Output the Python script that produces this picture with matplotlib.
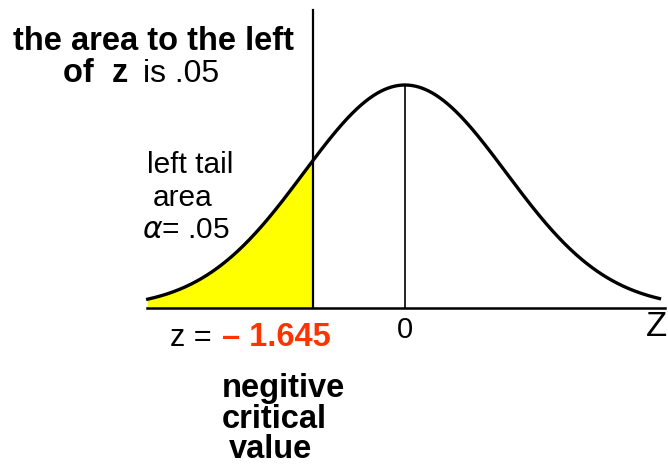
import numpy as np
import matplotlib.pyplot as plt

plt.rcParams['font.family'] = ['Liberation Sans', 'DejaVu Sans']

# values shown on the chart
alpha = 0.05
z_crit = -1.645
z_range = [-4.6, 4.55]
curve_spread = 1.81   # schematic width of the bell

W, H = 668, 466
fig = plt.figure(figsize=(W / 100, H / 100), dpi=100)
ax = fig.add_axes([0, 0, 1, 1])
ax.axis('off')

# axis scaling: 0 at px 405, z_crit at px 313 ; baseline at px 308, peak at px 85
px_per_unit = (405 - 313) / abs(z_crit)
peak = 1 / (curve_spread * np.sqrt(2 * np.pi))
val_per_px = peak / (308 - 85)
ax.set_xlim(-405 / px_per_unit, (W - 405) / px_per_unit)
ax.set_ylim(-(H - 308) * val_per_px, 308 * val_per_px)

x = np.linspace(z_range[0], z_range[1], 600)
y = np.exp(-0.5 * (x / curve_spread) ** 2) / (curve_spread * np.sqrt(2 * np.pi))

# shaded left tail
mask = x <= z_crit
ax.fill_between(x[mask], 0, y[mask], color='#ffff00', zorder=1)
ax.plot(x, y, color='black', lw=2.4, zorder=3)
ax.plot([z_range[0] - 0.02, z_range[1] + 0.1], [0, 0], color='black', lw=1.8, zorder=2)

# critical value line and center line
ax.plot([z_crit, z_crit], [0, (308 - 10) * val_per_px], color='black', lw=1.6, zorder=2)
ax.plot([0, 0], [0, peak], color='black', lw=1.2, zorder=2)


def fx(px):
    return px / W


def fy(py):
    return 1 - py / H


fig.text(fx(13), fy(42), 'the area to the left', fontsize=23.5, fontweight='bold',
         ha='left', va='center')
fig.text(fx(63), fy(74), 'of  z', fontsize=23.5, fontweight='bold', ha='left', va='center')
fig.text(fx(143), fy(74), f'is {alpha:.2f}'.replace('0.', '.'), fontsize=23, ha='left', va='center')

fig.text(fx(147), fy(165), 'left tail', fontsize=21.5, ha='left', va='center')
fig.text(fx(153), fy(198), 'area', fontsize=21.5, ha='left', va='center')
fig.text(fx(142), fy(230), r'$\alpha$= ' + f'{alpha:.2f}'.replace('0.', '.'), fontsize=21.5,
         ha='left', va='center')

fig.text(fx(170), fy(338), 'z =', fontsize=22, ha='left', va='center')
fig.text(fx(222), fy(338), f'– {abs(z_crit):.3f}', fontsize=23.5, fontweight='bold',
         color='#ff3300', ha='left', va='center')
ax.text(0, -22 * val_per_px, '0', fontsize=21, ha='center', va='center')
fig.text(fx(667), fy(326), 'Z', fontsize=25, ha='right', va='center')

fig.text(fx(222), fy(388), 'negitive', fontsize=23.5, fontweight='bold', ha='left', va='center')
fig.text(fx(222), fy(419), 'critical', fontsize=23.5, fontweight='bold', ha='left', va='center')
fig.text(fx(229), fy(450), 'value', fontsize=23.5, fontweight='bold', ha='left', va='center')

fig.savefig('out.png', dpi=100)
